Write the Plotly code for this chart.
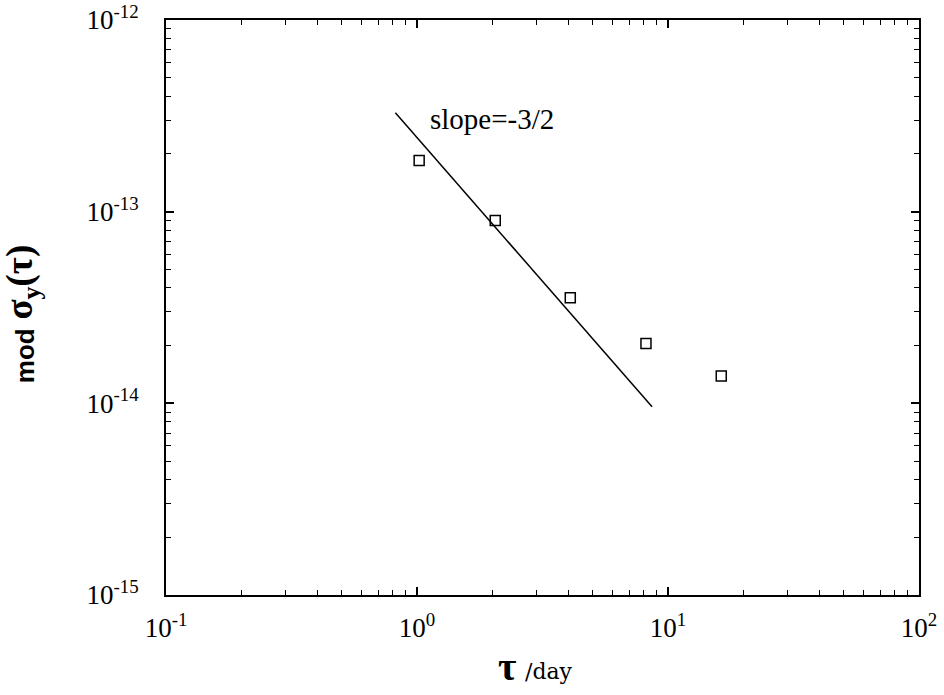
import plotly.graph_objects as go

tau_days = [1.02, 2.05, 4.08, 8.17, 16.3]
mod_sigma = [1.85e-13, 9.0e-14, 3.55e-14, 2.05e-14, 1.39e-14]

slope_x = [0.82, 8.64]
slope_y = [3.28e-13, 9.6e-15]

x_tickvals = [0.1, 1, 10, 100]
x_ticktext = ["10<sup>-1</sup>", "10<sup>0</sup>", "10<sup>1</sup>", "10<sup>2</sup>"]
y_tickvals = [1e-15, 1e-14, 1e-13, 1e-12]
y_ticktext = ["10<sup>-15</sup>", "10<sup>-14</sup>", "10<sup>-13</sup>", "10<sup>-12</sup>"]
minor_digits = [2, 3, 4, 5, 6, 7, 8, 9]

x_minor = [d * x for x in x_tickvals[:-1] for d in minor_digits]
y_minor = [d * y for y in y_tickvals[:-1] for d in minor_digits]

serif = "Liberation Serif"

fig = go.Figure()
fig.add_trace(go.Scatter(x=slope_x, y=slope_y, mode="lines",
                         line=dict(color="black", width=1.5), showlegend=False))
fig.add_trace(go.Scatter(x=tau_days, y=mod_sigma, mode="markers",
                         marker=dict(symbol="square-open", size=10, color="black",
                                     line=dict(width=1.5)), showlegend=False))

axis_common = dict(
    type="log", showgrid=False, zeroline=False, showline=True, linecolor="black",
    linewidth=2, mirror="allticks", ticks="inside", ticklen=8, tickwidth=1.5,
    tickcolor="black", automargin=False, ticklabeloverflow="allow",
    tickfont=dict(family=serif, size=27, color="black"),
)

fig.update_xaxes(range=[-1, 2], tickmode="array", tickvals=x_tickvals, ticktext=x_ticktext,
                 ticklabelstandoff=8,
                 minor=dict(tickmode="array", tickvals=x_minor, ticks="inside", ticklen=5,
                            tickwidth=1, tickcolor="black", showgrid=False),
                 **axis_common)
fig.update_yaxes(range=[-15, -12], tickmode="array", tickvals=y_tickvals, ticktext=y_ticktext,
                 ticklabelstandoff=20,
                 minor=dict(tickmode="array", tickvals=y_minor, ticks="inside", ticklen=5,
                            tickwidth=1, tickcolor="black", showgrid=False),
                 **axis_common)

fig.add_annotation(x=0.299, y=-12.516, xref="x", yref="y", text="slope=-3/2",
                   xanchor="center", yanchor="middle",
                   showarrow=False, font=dict(family=serif, size=29, color="black"))

# x-axis title: bold tau plus "/day"
fig.add_annotation(x=0.4535, y=-0.1235, xref="paper", yref="paper",
                   xanchor="center", yanchor="middle", text="<b>τ</b>",
                   showarrow=False, font=dict(family=serif, size=40, color="black"))
fig.add_annotation(x=0.508, y=-0.1322, xref="paper", yref="paper",
                   xanchor="center", yanchor="middle", text="/day",
                   showarrow=False, font=dict(family="DejaVu Serif", size=22, color="black"))

# y-axis title: "mod" (sans bold) and sigma_y(tau) (serif bold)
fig.add_annotation(x=-0.1873, y=0.417, xref="paper", yref="paper", textangle=-90,
                   xanchor="center", yanchor="middle", text="<b>mod</b>",
                   showarrow=False, font=dict(family="Liberation Sans", size=26, color="black"))
fig.add_annotation(x=-0.19, y=0.545, xref="paper", yref="paper", textangle=-90,
                   xanchor="center", yanchor="middle", text="<b>σ<sub>y</sub>(τ)</b>",
                   showarrow=False, font=dict(family=serif, size=37, color="black"))

fig.update_layout(width=944, height=695, plot_bgcolor="white", paper_bgcolor="white",
                  margin=dict(l=166, r=25, t=20, b=100))

fig.write_html("out.html", config={"displayModeBar": False},
               post_script="document.body.style.margin='0';")
